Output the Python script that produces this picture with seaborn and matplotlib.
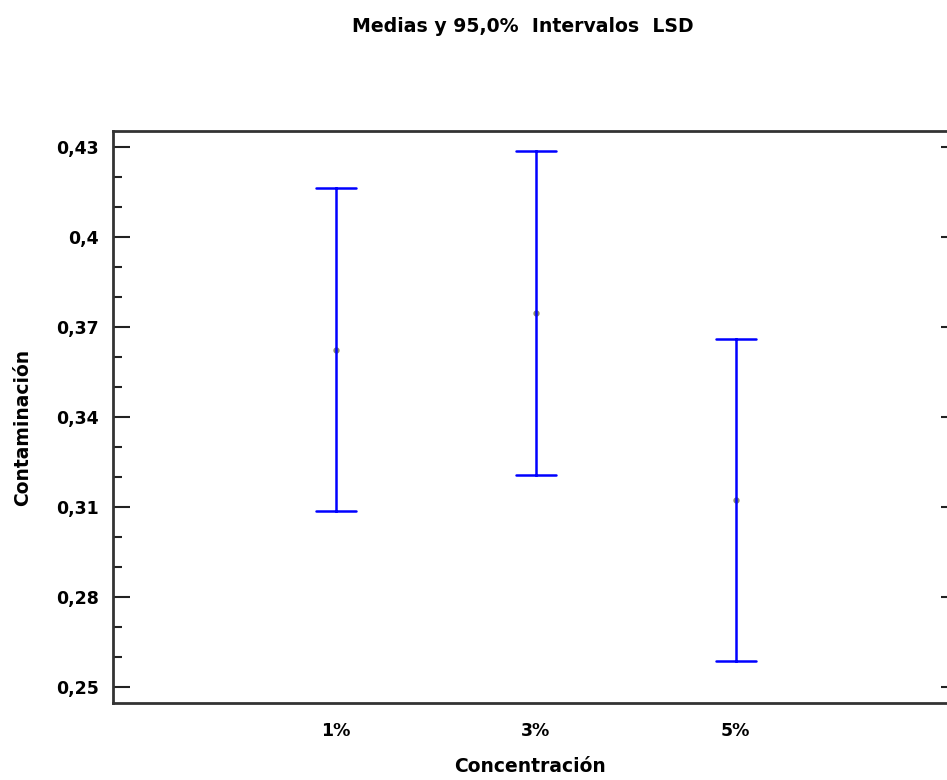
import numpy as np
import pandas as pd
import matplotlib
matplotlib.use("Agg")
import matplotlib.pyplot as plt
import seaborn as sns
from matplotlib.ticker import MultipleLocator

categories = ["1%", "3%", "5%"]
means = [0.3623, 0.3747, 0.3123]
lower = [0.3087, 0.3207, 0.2587]
upper = [0.4163, 0.4287, 0.3660]
y_ticks = [0.25, 0.28, 0.31, 0.34, 0.37, 0.40, 0.43]
y_tick_labels = ["0,25", "0,28", "0,31", "0,34", "0,37", "0,4", "0,43"]

rows = []
for c, lo, m, up in zip(categories, lower, means, upper):
    for v in (lo, m, up):
        rows.append({"Concentración": c, "Contaminación": v})
df = pd.DataFrame(rows)

sns.set_theme(style="white")
plt.rcParams['font.family'] = ['DejaVu Sans']
plt.rcParams['text.color'] = 'black'

W, H = 947, 780
fig = plt.figure(figsize=(W / 100, H / 100), dpi=100)
left, right, top, bottom = 113, 958, 131, 703
ax = fig.add_axes([left / W, 1 - bottom / H, (right - left) / W, (bottom - top) / H])

sns.pointplot(data=df, x="Concentración", y="Contaminación", order=categories,
              estimator=np.median, errorbar=("pi", 100), capsize=0.2,
              linestyle="none", marker="o", markersize=2.5, color="#8c8c64",
              err_kws={"color": "#0000ff", "linewidth": 1.8}, ax=ax, zorder=3)

ax.set_xlim(-1.1125, 3.1125)
ax.set_ylim(0.24467, 0.43533)
ax.set_yticks(y_ticks)
ax.set_yticklabels(y_tick_labels)
ax.yaxis.set_minor_locator(MultipleLocator(0.01))
ax.tick_params(axis="y", which="major", direction="in", length=12.2, width=1.5,
               color="#222222", left=True, right=True, labelsize=12.5, pad=10,
               labelcolor="black")
ax.tick_params(axis="y", which="minor", direction="in", length=6.5, width=1.5,
               color="#222222", left=True, right=False)
ax.tick_params(axis="x", which="both", length=0, labelsize=12.5, pad=14,
               labelcolor="black")
for lab in ax.get_xticklabels() + ax.get_yticklabels():
    lab.set_fontweight("bold")

for s in ax.spines.values():
    s.set_color("#333333")
    s.set_linewidth(2)
    s.set_visible(True)

ax.set_xlabel("Concentración", fontsize=13.5, fontweight="bold", color="black")
ax.set_ylabel("Contaminación", fontsize=13.5, fontweight="bold", color="black")
ax.xaxis.set_label_coords((530 - left) / (right - left), (bottom - 767) / (bottom - top))
ax.xaxis.label.set_verticalalignment("center")
ax.yaxis.set_label_coords((23 - left) / (right - left), (bottom - 427) / (bottom - top))
ax.yaxis.label.set_verticalalignment("center")

fig.text(522.5 / W, 1 - 26 / H, "Medias y 95,0%  Intervalos  LSD", ha="center", va="center",
         fontsize=13.6, fontweight="bold", color="black")

fig.savefig("out.png", dpi=100)
